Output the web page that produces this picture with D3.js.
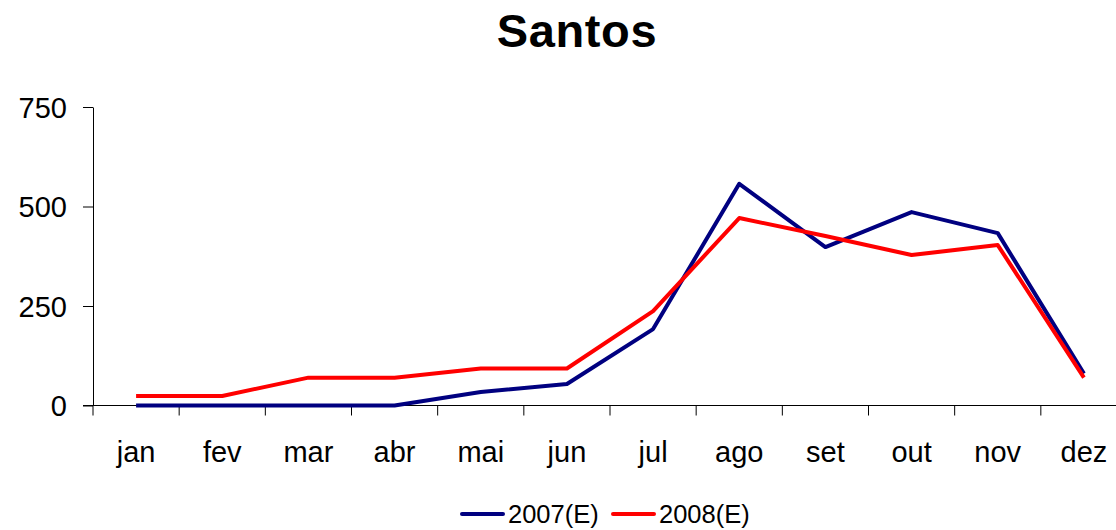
<!DOCTYPE html>
<html>
<head>
<meta charset="utf-8">
<script src="https://cdn.jsdelivr.net/npm/d3@7"></script>
<style>
  body { margin: 0; background: #fff; }
  svg { font-family: "Liberation Sans", Arial, sans-serif; }
</style>
</head>
<body>
<svg width="1116" height="530"></svg>
<script>
const svg = d3.select("svg");

// data
const months = ["jan", "fev", "mar", "abr", "mai", "jun", "jul", "ago", "set", "out", "nov", "dez"];
const values2007 = [0, 0, 0, 0, 34, 54, 192, 557, 398, 486, 433, 80];
const values2008 = [24, 24, 70, 70, 93, 93, 237, 471, 426, 378, 403, 70];
const seriesNames = ["2007(E)", "2008(E)"];
const seriesColors = ["#000080", "#ff0000"];
const yTicks = [0, 250, 500, 750];

const plotLeft = 93, plotRight = 1127, plotTop = 107, plotBottom = 405.5;

const x = d3.scaleBand().domain(months).range([plotLeft, plotRight]);
const y = d3.scaleLinear().domain([0, 750]).range([plotBottom, plotTop]);

// title
svg.append("text")
  .attr("x", 577).attr("y", 47)
  .attr("text-anchor", "middle")
  .style("font-size", "47px")
  .style("font-weight", "bold")
  .style("letter-spacing", "0.6px")
  .text("Santos");

// y axis
const yAxis = svg.append("g")
  .attr("transform", `translate(${plotLeft},0)`)
  .call(d3.axisLeft(y).tickValues(yTicks).tickSize(10).tickSizeOuter(0).tickPadding(16));
yAxis.select(".domain").attr("stroke", "#000");
yAxis.selectAll("text").style("font-size", "29px").attr("dy", "0.36em").attr("fill", "#000");

// x axis: ticks between categories
const xAxis = svg.append("g").attr("transform", `translate(0,${plotBottom})`);
xAxis.append("line")
  .attr("x1", plotLeft - 10).attr("x2", plotRight)
  .attr("stroke", "#000");
xAxis.selectAll(".tick")
  .data(months.concat([null]))
  .enter()
  .append("line")
  .attr("x1", (d, i) => plotLeft + i * x.step())
  .attr("x2", (d, i) => plotLeft + i * x.step())
  .attr("y1", 0).attr("y2", 10)
  .attr("stroke", "#000");
xAxis.selectAll(".lbl")
  .data(months)
  .enter()
  .append("text")
  .attr("x", d => x(d) + x.bandwidth() / 2)
  .attr("y", 56)
  .attr("text-anchor", "middle")
  .style("font-size", "29px")
  .text(d => d);

// lines
const line = d3.line()
  .x((d, i) => x(months[i]) + x.bandwidth() / 2)
  .y(d => y(d));

[values2007, values2008].forEach((vals, k) => {
  svg.append("path")
    .datum(vals)
    .attr("fill", "none")
    .attr("stroke", seriesColors[k])
    .attr("stroke-width", 4)
    .attr("stroke-linejoin", "round")
    .attr("d", line);
});

// legend
const legendX = [462, 613];
seriesNames.forEach((name, k) => {
  const g = svg.append("g").attr("transform", `translate(${legendX[k]},514)`);
  g.append("line")
    .attr("x1", 0).attr("x2", 41)
    .attr("stroke", seriesColors[k])
    .attr("stroke-width", 4)
    .attr("stroke-linecap", "round");
  g.append("text")
    .attr("x", 46).attr("y", 9)
    .style("font-size", "25.5px")
    .text(name);
});
</script>
</body>
</html>
